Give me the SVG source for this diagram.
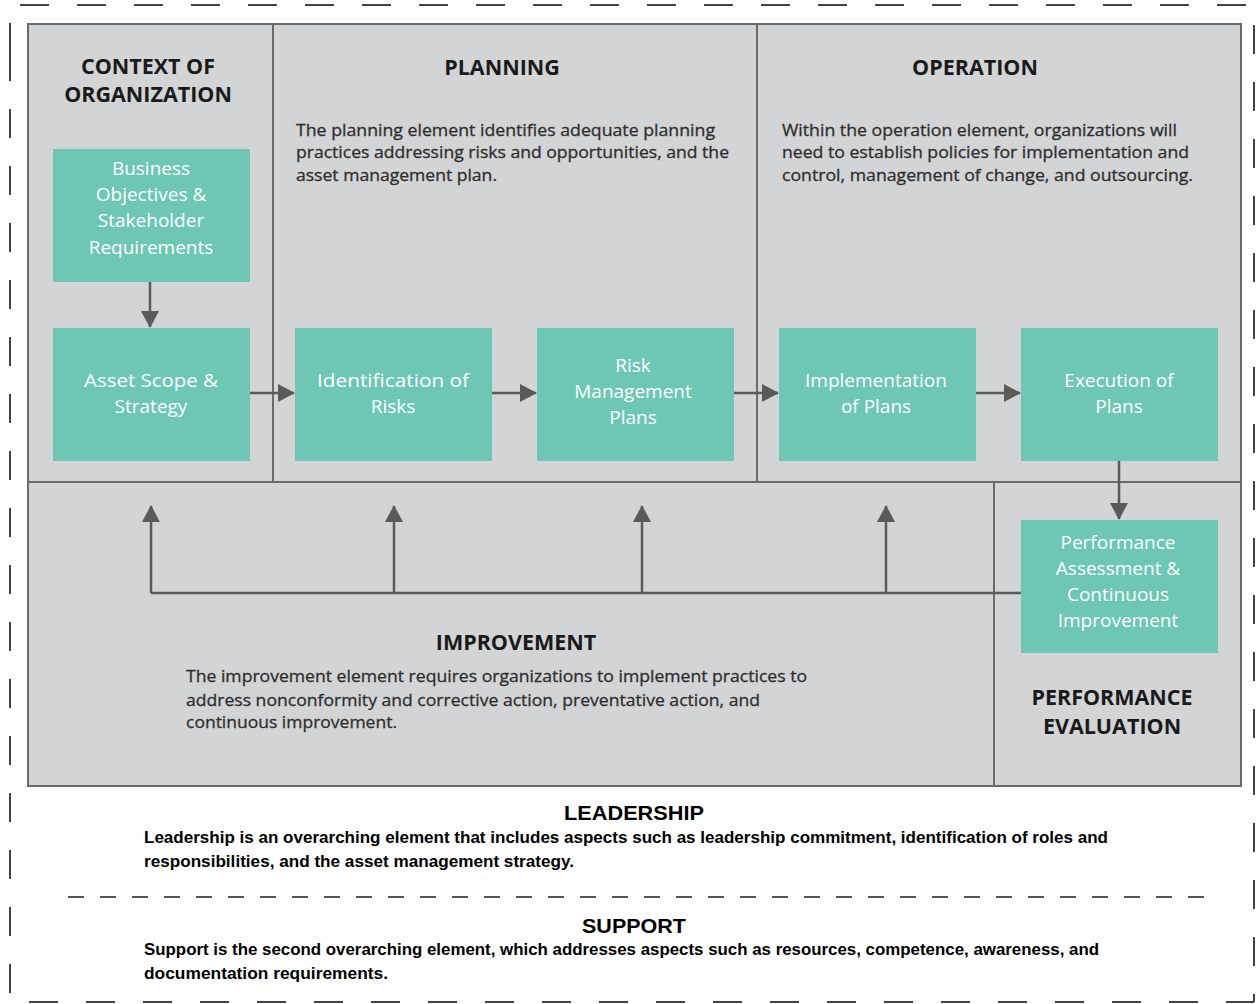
<svg xmlns="http://www.w3.org/2000/svg" width="1257" height="1004" viewBox="0 0 1257 1004">
<style>
.dash{fill:none;stroke:#444;stroke-width:2;stroke-dasharray:29 28}
.panel{fill:#d3d4d6;stroke:#6a6a6a;stroke-width:2}
.div{stroke:#6a6a6a;stroke-width:2;fill:none}
.box{fill:#6dc7b3}
.bt{font-family:"Open Sans","Noto Sans",sans-serif;font-size:19px;fill:#fff;text-anchor:middle}
.h{font-family:"Open Sans","Noto Sans",sans-serif;font-size:21.5px;font-weight:bold;fill:#1a1a1a;text-anchor:middle}
.p{font-family:"Open Sans","Noto Sans",sans-serif;font-size:16.5px;fill:#2e2e2e;stroke:#2e2e2e;stroke-width:0.3}
.c{fill:none;stroke:#5a5a58;stroke-width:2.5}
.lh{font-family:"Liberation Sans Narrow","Liberation Sans",sans-serif;font-weight:bold;fill:#000}
</style>
<defs>
<marker id="a" viewBox="0 0 20 20" refX="18" refY="10" markerWidth="20" markerHeight="20" markerUnits="userSpaceOnUse" orient="auto">
<path d="M2,1 L19,10 L2,19 z" fill="#5a5a58"/>
</marker>
</defs>
<rect width="1257" height="1004" fill="#fff"/>
<g id="border">
<path class="dash" d="M10,52 L10,5 L1254,5 L1254,1002"/>
<path class="dash" d="M10,52 L10,1002 L1254,1002"/>
</g>
<g id="panels">
<rect class="panel" x="28" y="24" width="1213" height="762"/>
<path class="div" d="M273,24 V482 M757,24 V482 M28,482 H1241 M994,482 V786"/>
</g>
<g id="section-context"><text class="h" x="148" y="74">CONTEXT OF</text><text class="h" x="148" y="102">ORGANIZATION</text></g>
<g id="section-planning"><text class="h" x="502" y="75">PLANNING</text>
<text class="p" x="296" y="136" textLength="419" lengthAdjust="spacingAndGlyphs">The planning element identifies adequate planning</text>
<text class="p" x="296" y="158" textLength="433" lengthAdjust="spacingAndGlyphs">practices addressing risks and opportunities, and the</text>
<text class="p" x="296" y="181" textLength="201" lengthAdjust="spacingAndGlyphs">asset management plan.</text></g>
<g id="section-operation"><text class="h" x="975" y="75">OPERATION</text>
<text class="p" x="782" y="136" textLength="395" lengthAdjust="spacingAndGlyphs">Within the operation element, organizations will</text>
<text class="p" x="782" y="158" textLength="407" lengthAdjust="spacingAndGlyphs">need to establish policies for implementation and</text>
<text class="p" x="782" y="181" textLength="411" lengthAdjust="spacingAndGlyphs">control, management of change, and outsourcing.</text></g>
<g id="section-improvement"><text class="h" x="516" y="650">IMPROVEMENT</text>
<text class="p" x="186" y="682" textLength="621" lengthAdjust="spacingAndGlyphs">The improvement element requires organizations to implement practices to</text>
<text class="p" x="186" y="706" textLength="574" lengthAdjust="spacingAndGlyphs">address nonconformity and corrective action, preventative action, and</text>
<text class="p" x="186" y="728" textLength="211" lengthAdjust="spacingAndGlyphs">continuous improvement.</text></g>
<g id="section-performance"><text class="h" x="1112" y="705">PERFORMANCE</text><text class="h" x="1112" y="734">EVALUATION</text></g>
<g id="connectors">
<path class="c" d="M150,282 V327" marker-end="url(#a)"/>
<path class="c" d="M250,393 H294" marker-end="url(#a)"/>
<path class="c" d="M492,393 H536" marker-end="url(#a)"/>
<path class="c" d="M734,393 H778" marker-end="url(#a)"/>
<path class="c" d="M976,393 H1020" marker-end="url(#a)"/>
<path class="c" d="M1119,461 V519" marker-end="url(#a)"/>
<path class="c" d="M1021,593 H151"/>
<path class="c" d="M151,593 V506" marker-end="url(#a)"/>
<path class="c" d="M394,593 V506" marker-end="url(#a)"/>
<path class="c" d="M642,593 V506" marker-end="url(#a)"/>
<path class="c" d="M886,593 V506" marker-end="url(#a)"/>
</g>
<g id="n-business"><rect class="box" x="53" y="149" width="197" height="133"/>
<text class="bt" x="151" y="175">Business</text><text class="bt" x="151" y="201">Objectives &amp;</text><text class="bt" x="151" y="227">Stakeholder</text><text class="bt" x="151" y="254">Requirements</text></g>
<g id="n-asset"><rect class="box" x="53" y="328" width="197" height="133"/>
<text class="bt" x="151" y="387" textLength="134" lengthAdjust="spacingAndGlyphs">Asset Scope &amp;</text><text class="bt" x="151" y="413">Strategy</text></g>
<g id="n-identification"><rect class="box" x="295" y="328" width="197" height="133"/>
<text class="bt" x="393" y="387" textLength="152" lengthAdjust="spacingAndGlyphs">Identification of</text><text class="bt" x="393" y="413">Risks</text></g>
<g id="n-riskplans"><rect class="box" x="537" y="328" width="197" height="133"/>
<text class="bt" x="633" y="372">Risk</text><text class="bt" x="633" y="398">Management</text><text class="bt" x="633" y="424">Plans</text></g>
<g id="n-implementation"><rect class="box" x="779" y="328" width="197" height="133"/>
<text class="bt" x="876" y="387">Implementation</text><text class="bt" x="876" y="413">of Plans</text></g>
<g id="n-execution"><rect class="box" x="1021" y="328" width="197" height="133"/>
<text class="bt" x="1119" y="387">Execution of</text><text class="bt" x="1119" y="413">Plans</text></g>
<g id="n-performance"><rect class="box" x="1021" y="520" width="197" height="133"/>
<text class="bt" x="1118" y="549">Performance</text><text class="bt" x="1118" y="575">Assessment &amp;</text><text class="bt" x="1118" y="601">Continuous</text><text class="bt" x="1118" y="627">Improvement</text></g>
<g id="leadership">
<text class="lh" x="634" y="820" font-size="20" text-anchor="middle" textLength="140" lengthAdjust="spacingAndGlyphs">LEADERSHIP</text>
<text class="lh" x="144" y="843" font-size="17" textLength="964" lengthAdjust="spacingAndGlyphs">Leadership is an overarching element that includes aspects such as leadership commitment, identification of roles and</text>
<text class="lh" x="144" y="867" font-size="17" textLength="430" lengthAdjust="spacingAndGlyphs">responsibilities, and the asset management strategy.</text>
</g>
<path d="M68,897 H1207" style="fill:none;stroke:#555;stroke-width:2;stroke-dasharray:16 16"/>
<g id="support">
<text class="lh" x="634" y="933" font-size="20" text-anchor="middle" textLength="104" lengthAdjust="spacingAndGlyphs">SUPPORT</text>
<text class="lh" x="144" y="955" font-size="17" textLength="955" lengthAdjust="spacingAndGlyphs">Support is the second overarching element, which addresses aspects such as resources, competence, awareness, and</text>
<text class="lh" x="144" y="979" font-size="17" textLength="244" lengthAdjust="spacingAndGlyphs">documentation requirements.</text>
</g>
</svg>
